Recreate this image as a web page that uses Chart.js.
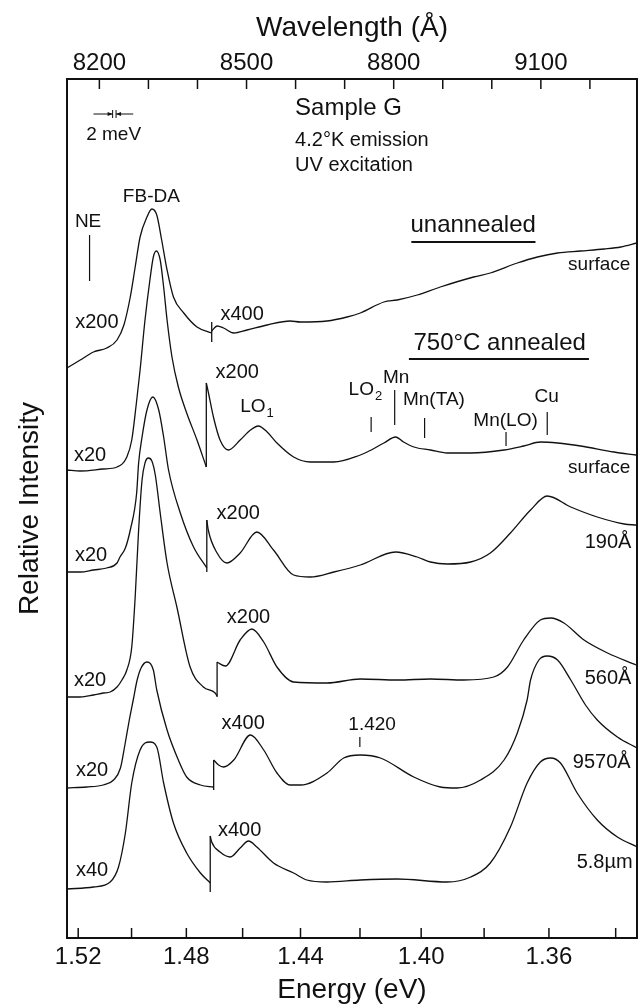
<!DOCTYPE html>
<html>
<head>
<meta charset="utf-8">
<script src="https://cdn.jsdelivr.net/npm/chart.js@4.4.1/dist/chart.umd.min.js"></script>
<style>
  html, body { margin: 0; padding: 0; background: #fff; }
  #wrap { width: 641px; height: 1007px; }
</style>
</head>
<body>
<div id="wrap"><canvas id="grafico" width="641" height="1007"></canvas></div>
<script>
  const HC = 12398.4; // eV·Å
  const WL_MIN = 8134, WL_MAX = 9296;

  // eixos
  const energias = [1.52, 1.50, 1.48, 1.46, 1.44, 1.42, 1.40, 1.38, 1.36, 1.34];
  const rotulosEnergia = [1.52, 1.48, 1.44, 1.40, 1.36];
  const comprimentos = [8200, 8300, 8400, 8500, 8600, 8700, 8800, 8900, 9000, 9100, 9200];
  const rotulosComprimento = [8200, 8500, 8800, 9100];

  // curvas: [comprimento de onda (Å), intensidade relativa (com deslocamento)]
  // cada curva tem parte antes do ganho, o salto de ganho e parte depois

  // unannealed, surface
  const unannEsq = [[8134,570],[8161,578],[8188,586],[8215,590],[8236,598],[8250,613],[8263,641],[8273,671],
    [8283,701],[8297,721],[8307,729],[8317,723],[8327,698],[8338,668],[8351,641],[8372,625],[8399,611],[8429,605]];
  const unannSalto = [8429, 596, 616];
  const unannDir = [[8429,607],[8440,612],[8453,610],[8474,605],[8501,608],[8542,613],[8589,617],[8610,616],
    [8664,617],[8705,621],[8732,625],[8780,636],[8807,638],[8848,643],[8895,651],[8963,661],[8997,665],
    [9052,675],[9093,681],[9134,685],[9181,687],[9229,689],[9263,691],[9296,695]];

  // 750°C annealed, surface
  const surfEsq = [[8134,468],[8161,467],[8208,469],[8236,471],[8256,481],[8266,498],[8275,533],[8283,568],
    [8293,618],[8303,658],[8310,681],[8316,687],[8324,678],[8331,651],[8338,618],[8348,581],[8361,551],
    [8378,525],[8399,498],[8418,471]];
  const surfSalto = [8418, 471, 555];
  const surfDir = [[8418,555],[8422,546],[8433,520],[8446,498],[8463,488],[8487,498],[8508,508],[8524,512],
    [8542,506],[8562,495],[8596,481],[8630,476],[8678,476],[8732,483],[8746,486],[8780,495],[8804,501],
    [8820,496],[8841,491],[8875,488],[8909,485],[8957,485],[9025,488],[9065,492],[9099,496],[9134,495],
    [9181,492],[9249,486],[9294,483]];

  // 190 Å
  const a190Esq = [[8134,366],[8161,366],[8188,368],[8215,370],[8236,375],[8242,381],[8253,390],[8263,408],
    [8276,445],[8280,475],[8287,501],[8297,528],[8309,541],[8321,528],[8331,501],[8341,468],[8365,425],
    [8392,391],[8419,370]];
  const a190Salto = [8419, 366, 418];
  const a190Dir = [[8419,418],[8422,408],[8440,385],[8460,375],[8487,385],[8521,406],[8555,388],[8596,363],
    [8630,361],[8678,366],[8732,373],[8804,386],[8848,381],[8875,376],[8909,374],[8957,376],[8997,385],
    [9038,405],[9079,428],[9113,442],[9161,431],[9215,421],[9270,414],[9294,413]];

  // 560 Å
  const a560Esq = [[8134,241],[8161,241],[8188,243],[8208,245],[8222,246],[8236,251],[8246,258],[8256,268],
    [8266,291],[8273,341],[8280,408],[8287,458],[8293,475],[8300,480],[8307,477],[8314,463],[8324,425],
    [8338,375],[8358,331],[8385,271],[8412,251],[8436,245],[8440,242]];
  const a560Salto = [8440, 241, 276];
  const a560Dir = [[8440,276],[8443,275],[8457,272],[8487,298],[8511,309],[8535,296],[8562,271],[8596,256],
    [8664,255],[8732,259],[8808,258],[8875,259],[8943,258],[9004,261],[9032,271],[9065,298],[9099,318],
    [9120,320],[9147,315],[9188,298],[9236,285],[9294,273]];

  // 9570 Å
  const a9570Esq = [[8134,150],[8174,151],[8208,153],[8229,158],[8243,170],[8252,193],[8261,218],[8269,238],
    [8277,258],[8285,270],[8297,276],[8310,268],[8317,248],[8338,208],[8361,178],[8378,161],[8406,153],[8433,151]];
  const a9570Salto = [8433, 148, 178];
  const a9570Dir = [[8433,178],[8443,173],[8453,171],[8474,178],[8508,203],[8535,188],[8562,165],[8589,153],
    [8610,153],[8664,165],[8698,180],[8732,183],[8773,180],[8841,161],[8895,151],[8929,150],[8977,158],
    [9025,178],[9052,205],[9072,238],[9079,258],[9096,278],[9113,282],[9134,278],[9161,258],[9191,233],
    [9215,218],[9256,201],[9296,190]];

  // 5.8 µm
  const a58Esq = [[8134,49],[8188,51],[8222,56],[8239,71],[8253,105],[8266,155],[8283,188],[8303,196],
    [8317,191],[8331,155],[8351,115],[8378,85],[8406,65],[8426,55]];
  const a58Salto = [8426, 46, 102];
  const a58Dir = [[8426,102],[8429,96],[8446,86],[8467,81],[8487,90],[8504,97],[8521,91],[8555,75],[8596,65],
    [8623,58],[8664,56],[8732,58],[8807,59],[8909,56],[8957,61],[8997,75],[9038,111],[9072,155],[9099,176],
    [9120,180],[9140,175],[9174,145],[9215,118],[9256,101],[9297,91]];

  // textos dentro do gráfico: [texto, λ, intensidade, tamanho, alinhamento]
  const anotacoes = [
    ['Sample G', 8599, 830, 24, 'left'],
    ['4.2°K emission', 8599, 798, 20, 'left'],
    ['UV excitation', 8599, 773, 20, 'left'],
    ['2 meV', 8229, 803, 19, 'center'],
    ['FB-DA', 8306, 741, 19, 'center'],
    ['NE', 8177, 716, 19, 'center'],
    ['x200', 8195, 616, 20, 'center'],
    ['x400', 8491, 624, 20, 'center'],
    ['unannealed', 8962, 713, 24, 'center'],
    ['surface', 9219, 673, 19, 'center'],
    ['750°C annealed', 9016, 595, 24, 'center'],
    ['x200', 8481, 566, 20, 'center'],
    ['Mn', 8805, 560, 19, 'center'],
    ['Mn(TA)', 8882, 538, 19, 'center'],
    ['Mn(LO)', 9028, 517, 19, 'center'],
    ['Cu', 9112, 541, 19, 'center'],
    ['surface', 9219, 470, 19, 'center'],
    ['x20', 8181, 483, 20, 'center'],
    ['x200', 8483, 425, 20, 'center'],
    ['190Å', 9237, 396, 20, 'center'],
    ['x20', 8183, 383, 20, 'center'],
    ['x20', 8181, 258, 20, 'center'],
    ['x200', 8504, 321, 20, 'center'],
    ['560Å', 9237, 260, 20, 'center'],
    ['x20', 8185, 168, 20, 'center'],
    ['x400', 8493, 215, 20, 'center'],
    ['1.420', 8756, 213, 19, 'center'],
    ['9570Å', 9224, 176, 20, 'center'],
    ['x40', 8185, 68, 20, 'center'],
    ['x400', 8486, 108, 20, 'center'],
    ['5.8µm', 9230, 76, 20, 'center']
  ];
  // com subscrito: [texto, subscrito, λ (esquerda), intensidade]
  const anotacoesSub = [['LO', '1', 8487, 531], ['LO', '2', 8708, 548]];
  // marcas verticais: [λ, intensidade de, até]
  const marcas = [[8180, 703, 657], [8754, 521, 506], [8802, 548, 513], [8863, 520, 500],
    [9029, 506, 492], [9113, 526, 503], [8731, 201, 191]];
  // sublinhados: [λ de, λ até, intensidade]
  const sublinhados = [[8836, 9089, 696], [8831, 9198, 579]];
  // resolução 2 meV: setas e barras
  const resolucao = { esq: 8188, dir: 8269, barra1: 8227, barra2: 8234, nivel: 824 };

  const curvas = [
    [unannEsq, unannSalto, unannDir],
    [surfEsq, surfSalto, surfDir],
    [a190Esq, a190Salto, a190Dir],
    [a560Esq, a560Salto, a560Dir],
    [a9570Esq, a9570Salto, a9570Dir],
    [a58Esq, a58Salto, a58Dir]
  ];

  const COR = '#111';
  const FONTE = "'Liberation Sans', Arial, Helvetica, sans-serif";
  Chart.defaults.font.family = FONTE;
  Chart.defaults.color = COR;

  function linha(pts, suave) {
    return {
      data: pts.map(p => ({ x: p[0], y: p[1] })),
      borderColor: COR,
      borderWidth: 1.3,
      pointRadius: 0,
      fill: false,
      tension: 0,
      cubicInterpolationMode: suave ? 'monotone' : 'default',
      xAxisID: 'x',
      yAxisID: 'y'
    };
  }

  const datasets = [];
  curvas.forEach(([esq, salto, dir]) => {
    datasets.push(linha(esq, true));
    datasets.push(linha([[salto[0], salto[1]], [salto[0], salto[2]]], false));
    datasets.push(linha(dir, true));
  });

  const desenhos = {
    id: 'desenhos',
    afterDraw(chart) {
      const { ctx, chartArea: a, scales } = chart;
      const px = v => scales.x.getPixelForValue(v);
      const py = v => scales.y.getPixelForValue(v);
      const seg = (x1, y1, x2, y2) => { ctx.beginPath(); ctx.moveTo(x1, y1); ctx.lineTo(x2, y2); ctx.stroke(); };
      ctx.save();
      ctx.strokeStyle = COR;
      ctx.fillStyle = COR;

      // moldura
      ctx.lineWidth = 2;
      ctx.strokeRect(a.left, a.top, a.right - a.left, a.bottom - a.top);

      // ticks para dentro
      ctx.lineWidth = 1.5;
      scales.x.ticks.forEach(t => { const x = px(t.value); seg(x, a.bottom, x, a.bottom - 10); });
      scales.x2.ticks.forEach(t => { const x = scales.x2.getPixelForValue(t.value); seg(x, a.top, x, a.top + 10); });

      // marcas
      ctx.lineWidth = 1.2;
      marcas.forEach(m => seg(px(m[0]), py(m[1]), px(m[0]), py(m[2])));

      // sublinhados
      ctx.lineWidth = 2;
      sublinhados.forEach(s => seg(px(s[0]), py(s[2]), px(s[1]), py(s[2])));

      // 2 meV
      ctx.lineWidth = 1;
      const yr = py(resolucao.nivel);
      const b1 = px(resolucao.barra1), b2 = px(resolucao.barra2);
      seg(px(resolucao.esq), yr, b1, yr);
      seg(b2, yr, px(resolucao.dir), yr);
      seg(b1, yr - 4, b1, yr + 4);
      seg(b2, yr - 4, b2, yr + 4);
      ctx.beginPath(); ctx.moveTo(b1, yr); ctx.lineTo(b1 - 5, yr - 2); ctx.lineTo(b1 - 5, yr + 2); ctx.fill();
      ctx.beginPath(); ctx.moveTo(b2, yr); ctx.lineTo(b2 + 5, yr - 2); ctx.lineTo(b2 + 5, yr + 2); ctx.fill();

      // textos
      ctx.textBaseline = 'middle';
      anotacoes.forEach(([txt, wl, y, tam, al]) => {
        ctx.font = tam + 'px ' + FONTE;
        ctx.textAlign = al;
        ctx.fillText(txt, px(wl), py(y));
      });
      anotacoesSub.forEach(([txt, sub, wl, y]) => {
        ctx.font = '19px ' + FONTE;
        ctx.textAlign = 'left';
        const x = px(wl);
        ctx.fillText(txt, x, py(y));
        const w = ctx.measureText(txt).width;
        ctx.font = '13px ' + FONTE;
        ctx.fillText(sub, x + w + 1, py(y) + 6);
      });
      ctx.restore();
    }
  };

  new Chart(document.getElementById('grafico'), {
    type: 'line',
    data: { datasets },
    options: {
      responsive: false,
      animation: false,
      devicePixelRatio: 1,
      layout: { padding: { left: 0, right: 4, top: 0, bottom: 0 } },
      plugins: { legend: { display: false }, tooltip: { enabled: false } },
      scales: {
        x: {
          type: 'linear', position: 'bottom', min: WL_MIN, max: WL_MAX,
          grid: { display: false, drawTicks: false }, border: { display: false },
          afterBuildTicks: s => { s.ticks = energias.map(e => ({ value: HC / e })); },
          ticks: {
            autoSkip: false, maxRotation: 0, padding: 5, color: COR, font: { size: 24 },
            callback: v => {
              const e = Math.round(HC / v * 100) / 100;
              return rotulosEnergia.includes(e) ? e.toFixed(2) : '';
            }
          },
          title: { display: true, text: 'Energy (eV)', color: COR, font: { size: 28 }, padding: { top: 0, bottom: 0 } },
          afterFit: s => { s.height = 69; }
        },
        x2: {
          type: 'linear', position: 'top', min: WL_MIN, max: WL_MAX,
          grid: { display: false, drawTicks: false }, border: { display: false },
          afterBuildTicks: s => { s.ticks = comprimentos.map(v => ({ value: v })); },
          ticks: {
            autoSkip: false, maxRotation: 0, padding: 1, color: COR, font: { size: 24 },
            callback: v => rotulosComprimento.includes(v) ? String(v) : ''
          },
          title: { display: true, text: 'Wavelength (Å)', color: COR, font: { size: 28 }, padding: { top: 11, bottom: 0 } },
          afterFit: s => { s.height = 79; }
        },
        y: {
          min: 0, max: 859,
          grid: { display: false }, border: { display: false },
          ticks: { display: false },
          title: { display: true, text: 'Relative Intensity', color: COR, font: { size: 28 }, padding: { top: 13, bottom: 0 } },
          afterFit: s => { s.width = 67; }
        }
      }
    },
    plugins: [desenhos]
  });
</script>
</body>
</html>
